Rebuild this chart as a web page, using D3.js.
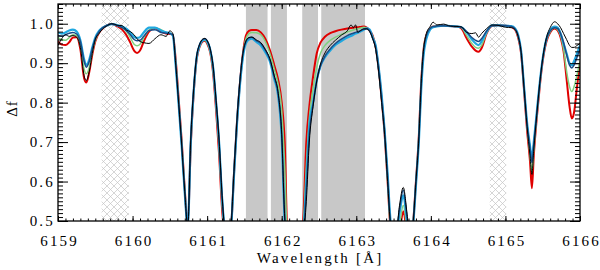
<!DOCTYPE html>
<html>
<head>
<meta charset="utf-8">
<script src="https://cdn.jsdelivr.net/npm/d3@7"></script>
<style>
  body { margin: 0; background: #fff; }
  text { font-family: "Liberation Serif", "Times New Roman", serif; }
</style>
</head>
<body>
<script>
// wavelength grid (Angstrom) shared by all model curves
var wave = [6159.00, 6159.05, 6159.10, 6159.15, 6159.20, 6159.25, 6159.30, 6159.35, 6159.38, 6159.42,
  6159.46, 6159.50, 6159.55, 6159.60, 6159.65, 6159.72, 6159.80, 6159.86, 6159.92, 6159.97,
  6160.02, 6160.06, 6160.10, 6160.15, 6160.22, 6160.30, 6160.38, 6160.45, 6160.50, 6160.54,
  6160.58, 6160.62, 6160.66, 6160.70, 6160.74, 6160.78, 6160.82, 6160.86, 6160.90, 6160.94,
  6160.97, 6161.00, 6161.04, 6161.08, 6161.12, 6161.16, 6161.20, 6161.24, 6161.28, 6161.32,
  6161.36, 6161.40, 6161.44, 6161.48, 6161.52, 6161.56, 6161.60, 6161.66, 6161.72, 6161.78,
  6161.84, 6161.90, 6161.95, 6162.00, 6162.04, 6162.08, 6162.17, 6162.25, 6162.29, 6162.33,
  6162.37, 6162.42, 6162.47, 6162.52, 6162.58, 6162.65, 6162.72, 6162.80, 6162.88, 6162.93,
  6162.96, 6162.99, 6163.02, 6163.06, 6163.10, 6163.14, 6163.18, 6163.22, 6163.26, 6163.30,
  6163.34, 6163.38, 6163.42, 6163.46, 6163.52, 6163.58, 6163.63, 6163.68, 6163.72, 6163.76,
  6163.80, 6163.84, 6163.87, 6163.90, 6163.94, 6163.99, 6164.03, 6164.08, 6164.17, 6164.26,
  6164.35, 6164.41, 6164.48, 6164.55, 6164.60, 6164.64, 6164.68, 6164.75, 6164.82, 6164.90,
  6165.00, 6165.08, 6165.13, 6165.17, 6165.21, 6165.25, 6165.29, 6165.33, 6165.355, 6165.38,
  6165.42, 6165.46, 6165.50, 6165.55, 6165.60, 6165.66, 6165.70, 6165.74, 6165.78, 6165.82,
  6165.86, 6165.89, 6165.92, 6165.96, 6166.00];

var fluxRed = [0.955, 0.947, 0.946, 0.953, 0.965, 0.966, 0.935, 0.862, 0.851, 0.878,
  0.922, 0.955, 0.977, 0.988, 0.995, 0.999, 0.993, 0.985, 0.970, 0.952,
  0.932, 0.926, 0.932, 0.955, 0.980, 0.989, 0.980, 0.975, 0.974, 0.972,
  0.905, 0.805, 0.700, 0.580, 0.485, 0.690, 0.825, 0.910, 0.942, 0.955,
  0.957, 0.950, 0.928, 0.875, 0.780, 0.670, 0.530, 0.460, 0.440, 0.480,
  0.620, 0.750, 0.850, 0.925, 0.970, 0.982, 0.984, 0.984, 0.978, 0.962,
  0.934, 0.895, 0.860, 0.800, 0.700, 0.450, 0.420, 0.440, 0.510, 0.700,
  0.790, 0.865, 0.925, 0.952, 0.967, 0.976, 0.981, 0.985, 0.988, 0.989,
  0.990, 0.991, 0.991, 0.992, 0.993, 0.990, 0.982, 0.970, 0.940, 0.885,
  0.810, 0.720, 0.600, 0.480, 0.440, 0.470, 0.525, 0.470, 0.440, 0.490,
  0.600, 0.720, 0.850, 0.930, 0.972, 0.988, 0.993, 0.994, 0.995, 0.994,
  0.993, 0.988, 0.963, 0.942, 0.932, 0.929, 0.938, 0.976, 0.994, 0.996,
  0.995, 0.992, 0.985, 0.965, 0.925, 0.830, 0.730, 0.650, 0.583, 0.665,
  0.760, 0.840, 0.905, 0.955, 0.978, 0.988, 0.983, 0.965, 0.930, 0.860,
  0.790, 0.760, 0.775, 0.840, 0.900];

var fluxGreen = [0.965, 0.960, 0.958, 0.965, 0.972, 0.970, 0.945, 0.885, 0.873, 0.890,
  0.928, 0.958, 0.979, 0.989, 0.995, 0.999, 0.995, 0.990, 0.980, 0.965,
  0.948, 0.944, 0.948, 0.965, 0.984, 0.990, 0.985, 0.978, 0.976, 0.972,
  0.900, 0.800, 0.695, 0.578, 0.485, 0.695, 0.828, 0.912, 0.944, 0.957,
  0.958, 0.952, 0.930, 0.880, 0.790, 0.685, 0.545, 0.465, 0.440, 0.480,
  0.620, 0.750, 0.850, 0.922, 0.962, 0.975, 0.978, 0.977, 0.972, 0.955,
  0.925, 0.885, 0.848, 0.780, 0.640, 0.440, 0.420, 0.440, 0.490, 0.640,
  0.760, 0.835, 0.890, 0.925, 0.945, 0.958, 0.966, 0.973, 0.979, 0.982,
  0.984, 0.986, 0.987, 0.989, 0.991, 0.989, 0.982, 0.968, 0.940, 0.885,
  0.810, 0.725, 0.600, 0.480, 0.440, 0.490, 0.540, 0.480, 0.440, 0.490,
  0.600, 0.720, 0.850, 0.930, 0.972, 0.988, 0.993, 0.994, 0.995, 0.994,
  0.993, 0.990, 0.970, 0.950, 0.940, 0.938, 0.945, 0.978, 0.995, 0.996,
  0.995, 0.993, 0.987, 0.968, 0.928, 0.835, 0.740, 0.665, 0.625, 0.680,
  0.765, 0.845, 0.908, 0.958, 0.980, 0.990, 0.985, 0.970, 0.935, 0.880,
  0.840, 0.828, 0.840, 0.870, 0.905];

var fluxCyan = [0.978, 0.975, 0.978, 0.983, 0.985, 0.980, 0.958, 0.910, 0.895, 0.910,
  0.940, 0.965, 0.982, 0.990, 0.995, 0.999, 0.996, 0.993, 0.987, 0.978,
  0.967, 0.964, 0.966, 0.978, 0.990, 0.990, 0.983, 0.978, 0.976, 0.970,
  0.890, 0.790, 0.685, 0.570, 0.485, 0.700, 0.830, 0.915, 0.945, 0.958,
  0.960, 0.955, 0.935, 0.890, 0.800, 0.700, 0.560, 0.470, 0.440, 0.480,
  0.615, 0.745, 0.845, 0.915, 0.950, 0.960, 0.962, 0.954, 0.945, 0.928,
  0.905, 0.860, 0.820, 0.710, 0.500, 0.430, 0.420, 0.440, 0.470, 0.600,
  0.740, 0.800, 0.857, 0.893, 0.915, 0.932, 0.946, 0.956, 0.965, 0.969,
  0.972, 0.975, 0.977, 0.981, 0.985, 0.988, 0.985, 0.965, 0.945, 0.890,
  0.820, 0.730, 0.620, 0.500, 0.445, 0.520, 0.565, 0.500, 0.445, 0.485,
  0.590, 0.705, 0.830, 0.915, 0.962, 0.985, 0.991, 0.993, 0.995, 0.994,
  0.993, 0.991, 0.978, 0.960, 0.950, 0.946, 0.955, 0.980, 0.996, 0.996,
  0.995, 0.994, 0.988, 0.972, 0.932, 0.840, 0.750, 0.690, 0.658, 0.700,
  0.775, 0.850, 0.912, 0.962, 0.984, 0.993, 0.990, 0.975, 0.950, 0.925,
  0.900, 0.895, 0.905, 0.925, 0.945];

var fluxBlue = [0.970, 0.968, 0.972, 0.976, 0.978, 0.974, 0.955, 0.905, 0.890, 0.905,
  0.937, 0.962, 0.980, 0.990, 0.995, 0.999, 0.995, 0.990, 0.982, 0.972,
  0.960, 0.957, 0.958, 0.968, 0.983, 0.985, 0.978, 0.976, 0.975, 0.972,
  0.895, 0.795, 0.690, 0.575, 0.485, 0.705, 0.835, 0.918, 0.948, 0.960,
  0.962, 0.957, 0.937, 0.892, 0.805, 0.705, 0.565, 0.470, 0.440, 0.485,
  0.625, 0.755, 0.855, 0.925, 0.955, 0.964, 0.966, 0.957, 0.950, 0.933,
  0.910, 0.865, 0.825, 0.720, 0.510, 0.440, 0.420, 0.440, 0.470, 0.580,
  0.720, 0.795, 0.855, 0.893, 0.918, 0.936, 0.950, 0.961, 0.970, 0.974,
  0.976, 0.978, 0.980, 0.983, 0.986, 0.987, 0.982, 0.963, 0.940, 0.885,
  0.810, 0.725, 0.610, 0.490, 0.445, 0.530, 0.578, 0.510, 0.450, 0.490,
  0.600, 0.715, 0.845, 0.928, 0.970, 0.988, 0.993, 0.994, 0.995, 0.994,
  0.993, 0.991, 0.980, 0.965, 0.958, 0.955, 0.962, 0.982, 0.995, 0.996,
  0.995, 0.993, 0.987, 0.970, 0.930, 0.838, 0.745, 0.685, 0.648, 0.695,
  0.772, 0.848, 0.910, 0.960, 0.982, 0.990, 0.988, 0.975, 0.952, 0.922,
  0.895, 0.888, 0.895, 0.915, 0.935];

var fluxObs = [0.945, 0.962, 0.972, 0.968, 0.970, 0.966, 0.940, 0.868, 0.856, 0.880,
  0.925, 0.960, 0.975, 0.987, 0.994, 1.000, 0.996, 0.995, 0.984, 0.980,
  0.972, 0.962, 0.955, 0.952, 0.950, 0.962, 0.972, 0.968, 0.982, 0.975,
  0.895, 0.795, 0.690, 0.575, 0.485, 0.705, 0.835, 0.918, 0.948, 0.961,
  0.963, 0.957, 0.937, 0.892, 0.805, 0.705, 0.565, 0.470, 0.440, 0.485,
  0.625, 0.755, 0.855, 0.925, 0.956, 0.965, 0.966, 0.959, 0.952, 0.935,
  0.912, 0.868, 0.828, 0.720, 0.510, 0.440, 0.420, 0.440, 0.460, 0.550,
  0.700, 0.790, 0.855, 0.898, 0.926, 0.945, 0.958, 0.971, 0.982, 0.997,
  0.990, 0.997, 0.978, 0.983, 0.987, 0.987, 0.980, 0.962, 0.935, 0.878,
  0.800, 0.720, 0.600, 0.490, 0.445, 0.540, 0.585, 0.520, 0.450, 0.490,
  0.600, 0.715, 0.848, 0.930, 0.975, 0.993, 1.004, 0.997, 0.999, 0.994,
  0.993, 0.992, 0.978, 0.975, 0.977, 0.966, 0.975, 0.988, 0.997, 0.996,
  0.991, 0.990, 0.985, 0.968, 0.928, 0.835, 0.740, 0.665, 0.618, 0.680,
  0.768, 0.848, 0.912, 0.965, 0.990, 1.005, 1.000, 0.990, 0.975, 0.960,
  0.945, 0.940, 0.940, 0.945, 0.950];

// masked wavelength windows
var grayRegions = [[6161.52, 6161.81], [6161.855, 6162.07], [6162.275, 6162.487], [6162.53, 6163.117]];
var hatchRegions = [[6159.585, 6159.95], [6164.79, 6165.01]];

var xTicks = [6159, 6160, 6161, 6162, 6163, 6164, 6165, 6166];
var yTicks = [0.5, 0.6, 0.7, 0.8, 0.9, 1.0];

var series = [
  {values: fluxRed,   color: "#e00000", width: 2},
  {values: fluxGreen, color: "#80d080", width: 1.5},
  {values: fluxCyan,  color: "#20a8e0", width: 2.2},
  {values: fluxBlue,  color: "#1a4c88", width: 1.5},
  {values: fluxObs,   color: "#000000", width: 1}
];

var W = 600, H = 270;
var margin = {top: 4, right: 20, bottom: 49, left: 58};
var width = W - margin.left - margin.right,
    height = H - margin.top - margin.bottom;
var fontSize = 15, spacing = 2.2;

var x = d3.scaleLinear().domain([6159, 6166]).range([0, width]);
var y = d3.scaleLinear().domain([0.5, 1.05]).range([height, 0]);

var svg = d3.select("body").append("svg")
  .attr("width", W)
  .attr("height", H);

var defs = svg.append("defs");
defs.append("clipPath").attr("id", "plotclip")
  .append("rect").attr("width", width).attr("height", height);

var pat = defs.append("pattern")
  .attr("id", "hatch")
  .attr("patternUnits", "userSpaceOnUse")
  .attr("width", 7).attr("height", 7);
pat.append("path")
  .attr("d", "M0,0L7,7M7,0L0,7")
  .attr("stroke", "#c4c4c4")
  .attr("stroke-width", 0.7);

var g = svg.append("g")
  .attr("transform", "translate(" + margin.left + "," + margin.top + ")");

// shaded windows
g.selectAll(".gray").data(grayRegions).enter().append("rect")
  .attr("x", function(d) { return x(d[0]); })
  .attr("width", function(d) { return x(d[1]) - x(d[0]); })
  .attr("y", 0).attr("height", height)
  .attr("fill", "#c8c8c8");

g.selectAll(".hatch").data(hatchRegions).enter().append("rect")
  .attr("x", function(d) { return x(d[0]); })
  .attr("width", function(d) { return x(d[1]) - x(d[0]); })
  .attr("y", 0).attr("height", height)
  .attr("fill", "url(#hatch)");

// curves
var line = d3.line()
  .x(function(d, i) { return x(wave[i]); })
  .y(function(d) { return y(d); })
  .curve(d3.curveMonotoneX);

var lines = g.append("g").attr("clip-path", "url(#plotclip)");
series.forEach(function(s) {
  lines.append("path")
    .datum(s.values)
    .attr("fill", "none")
    .attr("stroke", s.color)
    .attr("stroke-width", s.width)
    .attr("stroke-linejoin", "round")
    .attr("d", line);
});

// axes: ticks pointing inwards on all four sides
var xMinor = d3.range(61590, 61661).map(function(v) { return v / 10; });
var yMinor = d3.range(50, 106).map(function(v) { return v / 100; });

function styleAxis(sel) {
  sel.select(".domain").remove();
  sel.selectAll("line").attr("stroke", "#000").attr("stroke-width", 1);
}
function styleText(sel) {
  sel.selectAll("text")
    .attr("font-size", fontSize)
    .attr("font-family", "Liberation Serif")
    .attr("letter-spacing", spacing)
    .attr("fill", "#000");
}

g.append("g").attr("transform", "translate(0," + height + ")")
  .call(d3.axisBottom(x).tickValues(xMinor).tickSize(-2.5).tickFormat(""))
  .call(styleAxis);
g.append("g").attr("transform", "translate(0," + height + ")")
  .call(d3.axisBottom(x).tickValues(xTicks).tickSize(-5).tickPadding(14).tickFormat(d3.format("d")))
  .call(styleAxis)
  .call(styleText)
  .selectAll("text").attr("dx", spacing / 2);

g.append("g")
  .call(d3.axisTop(x).tickValues(xMinor).tickSize(-2.5).tickFormat(""))
  .call(styleAxis);
g.append("g")
  .call(d3.axisTop(x).tickValues(xTicks).tickSize(-5).tickFormat(""))
  .call(styleAxis);

g.append("g")
  .call(d3.axisLeft(y).tickValues(yMinor).tickSize(-5).tickFormat(""))
  .call(styleAxis);
g.append("g")
  .call(d3.axisLeft(y).tickValues(yTicks).tickSize(-10).tickPadding(3).tickFormat(d3.format(".1f")))
  .call(styleAxis)
  .call(styleText);

g.append("g").attr("transform", "translate(" + width + ",0)")
  .call(d3.axisRight(y).tickValues(yMinor).tickSize(-5).tickFormat(""))
  .call(styleAxis);
g.append("g").attr("transform", "translate(" + width + ",0)")
  .call(d3.axisRight(y).tickValues(yTicks).tickSize(-10).tickFormat(""))
  .call(styleAxis);

// frame
g.append("rect")
  .attr("width", width).attr("height", height)
  .attr("fill", "none").attr("stroke", "#000").attr("stroke-width", 1.3);

// axis titles
svg.append("text")
  .attr("x", margin.left + width / 2 + spacing / 2)
  .attr("y", 263)
  .attr("text-anchor", "middle")
  .attr("font-size", fontSize)
  .attr("letter-spacing", spacing)
  .text("Wavelength [Å]");

svg.append("text")
  .attr("transform", "translate(17," + (margin.top + height / 2 - 4) + ") rotate(-90)")
  .attr("text-anchor", "middle")
  .attr("font-size", fontSize)
  .attr("letter-spacing", 1)
  .text("Δf");
</script>
</body>
</html>
